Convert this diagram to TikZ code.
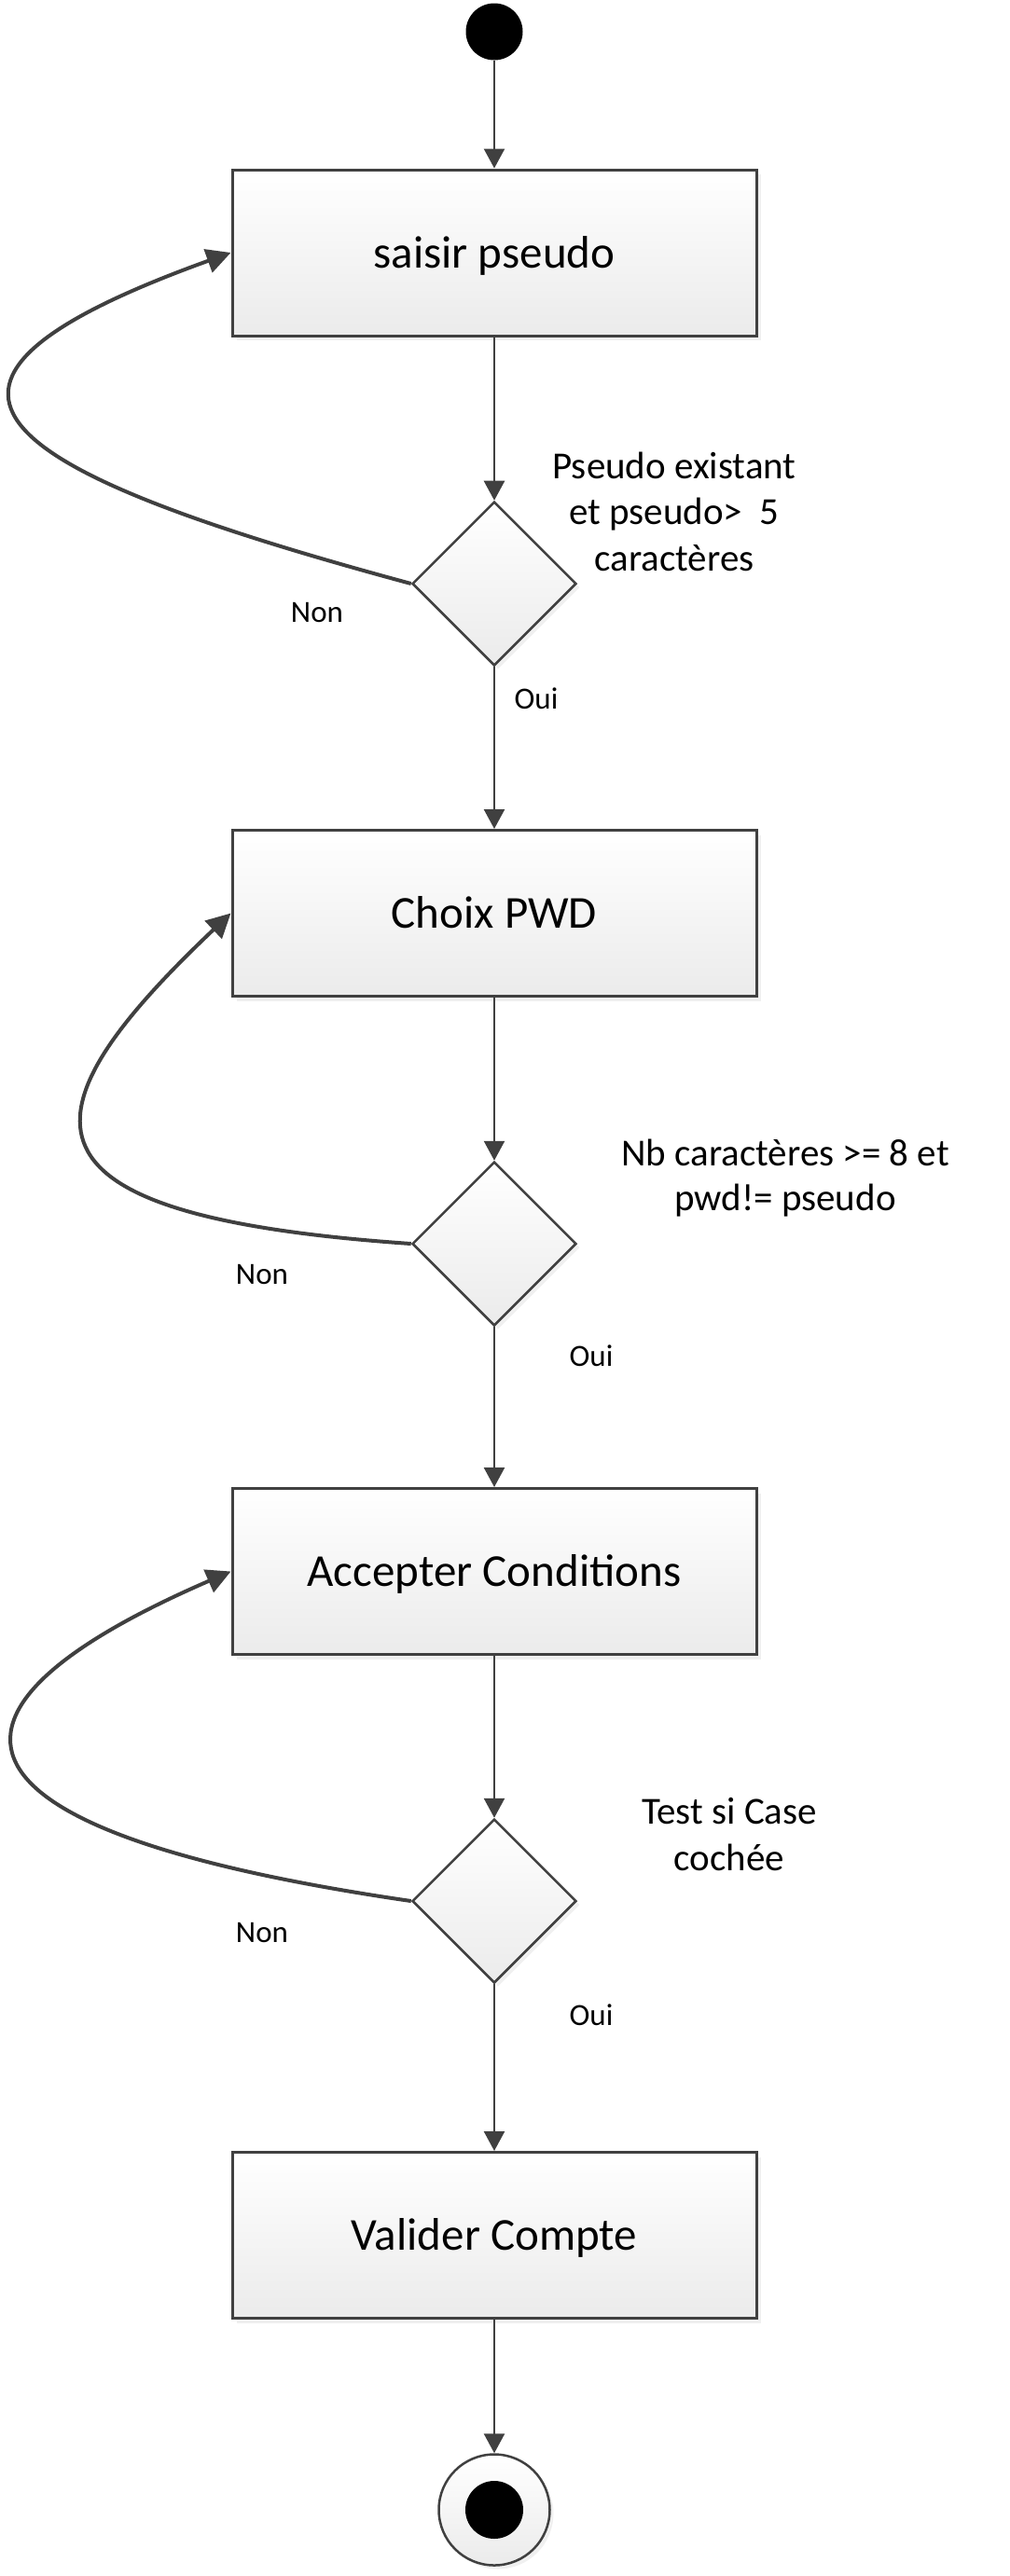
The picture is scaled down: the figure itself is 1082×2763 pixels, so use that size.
\documentclass[tikz,border=0pt]{standalone}
\usepackage{fontspec}
\setmainfont{Carlito}
\usetikzlibrary{arrows.meta,shapes.geometric,shadows}
\definecolor{ln}{HTML}{404040}
\definecolor{boxbot}{HTML}{EBEBEB}
\begin{document}
\begin{tikzpicture}[x=1pt,y=-1pt,
  actbox/.style={draw=ln, line width=3pt, rectangle, minimum width=562pt, minimum height=178pt,
    inner sep=0pt, top color=white, bottom color=boxbot, text height=32pt, text depth=0pt,
    font=\fontsize{49pt}{59pt}\selectfont,
    drop shadow={shadow xshift=5pt, shadow yshift=-5pt, opacity=0.12}},
  decision/.style={draw=ln, line width=2.5pt, diamond, minimum width=176pt, minimum height=176pt,
    inner sep=0pt, top color=white, bottom color=boxbot,
    drop shadow={shadow xshift=4pt, shadow yshift=-4pt, opacity=0.12}},
  cond/.style={anchor=base, inner sep=0pt, font=\fontsize{41pt}{50pt}\selectfont},
  small/.style={anchor=base, inner sep=0pt, font=\fontsize{33pt}{40pt}\selectfont},
  conn/.style={draw=ln, line width=2.5pt, -{Triangle[length=21pt,width=22pt]}},
  loopc/.style={draw=ln, line width=4pt, -{Triangle[length=26pt,width=26pt]}}
]
\useasboundingbox (0,0) rectangle (1082,2763);

% start / end
\node[circle, fill=black, minimum size=61pt, inner sep=0pt] (start) at (530,34) {};
\node[circle, draw=ln, line width=2.5pt, top color=white, bottom color=boxbot, minimum size=119pt, inner sep=0pt,
  drop shadow={shadow xshift=4pt, shadow yshift=-4pt, opacity=0.12}] (end) at (530,2692) {};
\node[circle, fill=black, minimum size=62pt, inner sep=0pt] (endin) at (530,2692) {};

% activities
\node[actbox] (b1) at (530,271) {saisir pseudo};
\node[actbox] (b2) at (530,979.5) {Choix PWD};
\node[actbox] (b3) at (530,1685.5) {Accepter Conditions};
\node[actbox] (b4) at (530,2397.5) {Valider Compte};

% decisions
\node[decision] (d1) at (530,626) {};
\node[decision] (d2) at (530,1334) {};
\node[decision] (d3) at (530,2039) {};

% condition texts
\node[cond] (c1a) at (723,513) {Pseudo existant};
\node[cond] (c1b) at (723,562) {et pseudo>\ \ 5};
\node[cond] (c1c) at (723,612) {caractères};
\node[cond] (c2a) at (842,1250) {Nb caractères >= 8 et};
\node[cond] (c2b) at (842,1298) {pwd!= pseudo};
\node[cond] (c3a) at (782,1956) {Test si Case};
\node[cond] (c3b) at (782,2006) {cochée};

% Oui / Non
\node[small] (oui1) at (575,760) {Oui};
\node[small] (oui2) at (634,1465) {Oui};
\node[small] (oui3) at (634,2172) {Oui};
\node[small] (non1) at (340,667) {Non};
\node[small] (non2) at (281,1377) {Non};
\node[small] (non3) at (281,2083) {Non};

% straight connectors
\draw[conn] (start) -- (b1);
\draw[conn] (b1) -- (d1);
\draw[conn] (d1) -- (b2);
\draw[conn] (b2) -- (d2);
\draw[conn] (d2) -- (b3);
\draw[conn] (b3) -- (d3);
\draw[conn] (d3) -- (b4);
\draw[conn] (b4) -- (end);

% loops
\draw[loopc] (d1.west) .. controls +(-470,-127) and +(-385,139) .. (b1.west);
\draw[loopc] (d2.west) .. controls +(-435,-30) and +(-232,220) .. (b2.west);
\draw[loopc] (d3.west) .. controls +(-515,-75) and +(-348,151) .. (b3.west);
\end{tikzpicture}
\end{document}
